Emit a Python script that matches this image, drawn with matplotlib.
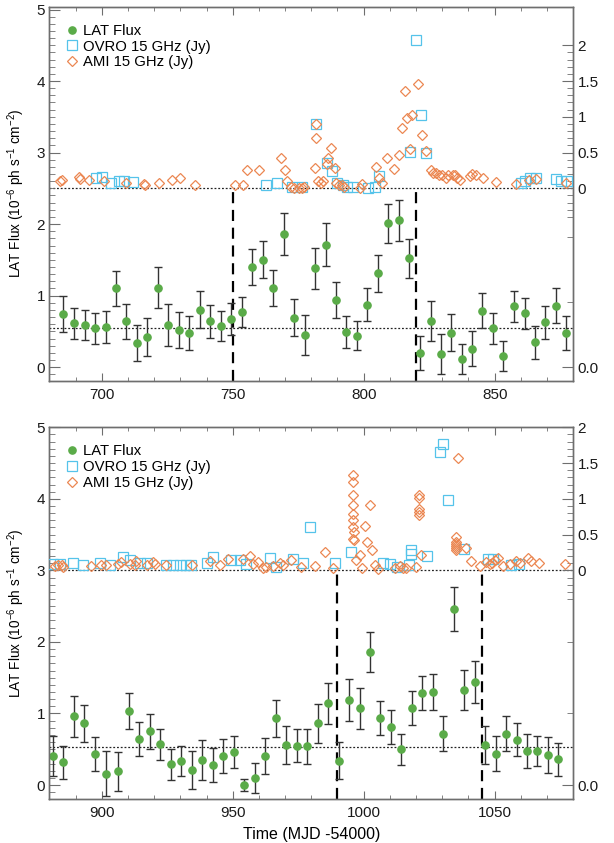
import numpy as np
import matplotlib
matplotlib.use("Agg")
import matplotlib.pyplot as plt
from matplotlib.lines import Line2D
from matplotlib.ticker import FixedLocator, MultipleLocator

plt.rcParams['font.family'] = ['Liberation Sans', 'DejaVu Sans']
plt.rcParams['mathtext.fontset'] = 'custom'
plt.rcParams['mathtext.rm'] = 'Liberation Sans'
plt.rcParams['mathtext.default'] = 'regular'

# ---- top panel data (MJD - 54000) ----
t_lat1 = [685.3, 689.4, 693.5, 697.4, 701.5, 705.5, 709.4, 713.4, 717.3, 721.3,
          725.3, 729.4, 733.3, 737.4, 741.3, 745.4, 749.4, 753.4, 757.4, 761.5,
          765.4, 769.5, 773.4, 777.5, 781.4, 785.5, 789.4, 793.4, 797.3, 801.4,
          805.5, 809.4, 813.5, 817.4, 821.4, 825.5, 829.5, 833.5, 837.4, 841.3,
          845.3, 849.4, 853.3, 857.4, 861.5, 865.4, 869.3, 873.4, 877.3]
flux_lat1 = [0.74, 0.61, 0.59, 0.54, 0.56, 1.10, 0.64, 0.34, 0.42, 1.11,
             0.59, 0.52, 0.48, 0.80, 0.64, 0.57, 0.67, 0.77, 1.40, 1.50,
             1.11, 1.86, 0.69, 0.45, 1.38, 1.71, 0.94, 0.49, 0.44, 0.87,
             1.31, 2.01, 2.05, 1.52, 0.20, 0.65, 0.18, 0.48, 0.12, 0.26,
             0.79, 0.54, 0.16, 0.85, 0.75, 0.35, 0.63, 0.86, 0.48]
err_lat1 = [0.25, 0.21, 0.21, 0.21, 0.22, 0.25, 0.24, 0.25, 0.26, 0.29,
            0.29, 0.25, 0.24, 0.26, 0.23, 0.21, 0.22, 0.21, 0.25, 0.26,
            0.25, 0.29, 0.26, 0.28, 0.29, 0.30, 0.25, 0.22, 0.20, 0.23,
            0.26, 0.27, 0.29, 0.27, 0.24, 0.28, 0.28, 0.26, 0.21, 0.24,
            0.24, 0.21, 0.21, 0.22, 0.22, 0.23, 0.23, 0.24, 0.24]

t_ovro1 = [697.7, 700.0, 703.7, 706.5, 708.4, 712.1, 762.8, 766.9, 772.8, 776.6,
           781.8, 786.0, 787.9, 789.8, 792.1, 793.6, 795.9, 801.6, 804.2, 806.0,
           817.7, 819.8, 821.8, 823.8, 860.0, 861.5, 863.4, 865.6, 873.5, 875.4, 877.7]
jy_ovro1 = [0.14, 0.16, 0.08, 0.10, 0.10, 0.09, 0.04, 0.07, 0.02, 0.02,
            0.90, 0.35, 0.24, 0.08, 0.05, 0.02, 0.02, 0.00, 0.02, 0.17,
            0.51, 2.07, 1.02, 0.50, 0.07, 0.10, 0.14, 0.14, 0.13, 0.10, 0.10]

t_ami1 = [684.2, 684.7, 691.2, 691.9, 695.0, 700.9, 709.2, 716.2, 716.5, 721.9,
          726.8, 730.0, 735.6, 750.9, 753.8, 755.5, 759.9, 768.6, 770.1, 770.9,
          772.4, 773.4, 775.2, 776.6, 777.1, 781.7, 781.9, 781.6, 782.4, 783.6,
          784.4, 786.4, 786.0, 787.4, 788.9, 789.6, 790.6, 791.9, 792.4, 798.5,
          799.4, 804.8, 805.7, 807.1, 808.8, 811.6, 813.6, 814.6, 815.6, 816.4,
          817.8, 818.3, 820.7, 822.4, 823.9, 825.6, 826.5, 827.7, 828.7, 830.0,
          831.6, 832.2, 834.1, 835.0, 835.6, 836.9, 840.5, 841.5, 843.0, 845.5,
          850.4, 858.0, 863.1, 865.9, 877.4]
jy_ami1 = [0.10, 0.11, 0.16, 0.13, 0.11, 0.10, 0.07, 0.06, 0.05, 0.07,
           0.11, 0.15, 0.04, 0.05, 0.05, 0.26, 0.25, 0.43, 0.26, 0.10,
           0.02, 0.00, 0.00, 0.01, 0.02, 0.90, 0.70, 0.28, 0.10, 0.07,
           0.10, 0.42, 0.34, 0.57, 0.29, 0.07, 0.05, 0.04, 0.02, 0.00,
           0.06, 0.30, 0.15, 0.08, 0.42, 0.27, 0.47, 0.84, 1.36, 0.99,
           0.55, 1.02, 1.46, 0.74, 0.52, 0.25, 0.22, 0.21, 0.19, 0.19,
           0.14, 0.18, 0.19, 0.19, 0.15, 0.12, 0.17, 0.20, 0.19, 0.14,
           0.09, 0.06, 0.12, 0.13, 0.08]

# ---- bottom panel data ----
t_lat2 = [881.4, 885.2, 889.4, 893.4, 897.4, 901.5, 906.4, 910.3, 914.2, 918.3,
          922.4, 926.5, 930.4, 934.4, 938.4, 942.4, 946.3, 950.4, 954.3, 958.4,
          962.4, 966.4, 970.5, 974.5, 978.4, 982.5, 986.4, 990.4, 994.3, 998.4,
          1002.4, 1006.4, 1010.5, 1014.4, 1018.3, 1022.4, 1026.4, 1030.4, 1034.3, 1038.3,
          1042.4, 1046.4, 1050.4, 1054.4, 1058.4, 1062.3, 1066.3, 1070.2, 1074.3]
flux_lat2 = [0.41, 0.32, 0.96, 0.86, 0.43, 0.16, 0.19, 1.03, 0.64, 0.75,
             0.57, 0.29, 0.33, 0.21, 0.35, 0.28, 0.41, 0.46, 0.00, 0.10,
             0.41, 0.93, 0.56, 0.55, 0.54, 0.86, 1.14, 0.34, 1.19, 1.07,
             1.86, 0.94, 0.81, 0.50, 1.08, 1.29, 1.30, 0.72, 2.46, 1.33,
             1.44, 0.56, 0.44, 0.72, 0.63, 0.48, 0.47, 0.42, 0.36]
err_lat2 = [0.28, 0.23, 0.29, 0.26, 0.24, 0.32, 0.27, 0.25, 0.24, 0.24,
            0.22, 0.22, 0.21, 0.27, 0.28, 0.24, 0.24, 0.22, 0.08, 0.21,
            0.25, 0.26, 0.26, 0.23, 0.24, 0.27, 0.29, 0.26, 0.29, 0.28,
            0.28, 0.24, 0.24, 0.22, 0.24, 0.24, 0.25, 0.25, 0.31, 0.28,
            0.29, 0.27, 0.24, 0.25, 0.23, 0.24, 0.21, 0.25, 0.23]

t_ovro2 = [881.4, 884.0, 889.1, 892.9, 899.2, 903.1, 908.1, 910.7, 914.5, 917.1,
           924.7, 927.2, 929.8, 932.3, 934.2, 940.0, 942.5, 949.5, 952.7, 955.2,
           964.2, 966.7, 973.1, 976.9, 979.4, 989.0, 995.3, 1007.2, 1010.2, 1012.8,
           1017.2, 1018.2, 1018.2, 1024.3, 1029.0, 1030.3, 1032.2, 1038.2, 1047.4, 1049.4,
           1056.1, 1059.3]
jy_ovro2 = [0.09, 0.09, 0.10, 0.08, 0.11, 0.08, 0.19, 0.14, 0.11, 0.11,
            0.08, 0.08, 0.08, 0.08, 0.08, 0.11, 0.19, 0.14, 0.14, 0.09,
            0.18, 0.05, 0.16, 0.10, 0.61, 0.11, 0.26, 0.10, 0.09, 0.05,
            0.07, 0.28, 0.23, 0.20, 1.65, 1.76, 0.98, 0.30, 0.16, 0.16,
            0.07, 0.09]

t_ami2 = [882.1, 883.3, 885.0, 885.2, 896.1, 899.9, 901.8, 906.2, 907.5, 910.7,
          912.6, 913.2, 917.3, 919.6, 920.2, 924.4, 934.5, 941.2, 945.0, 948.2,
          954.0, 956.5, 957.8, 959.7, 961.6, 962.9, 965.4, 968.0, 969.2, 972.4,
          976.2, 981.3, 985.4, 988.3, 996.0, 996.0, 996.0, 996.0, 996.0, 996.0,
          996.0, 996.2, 996.0, 996.3, 997.2, 998.5, 999.5, 1000.4, 1001.3, 1002.3,
          1003.3, 1004.2, 1005.5, 1012.1, 1013.8, 1015.0, 1016.3, 1020.1, 1021.1, 1021.1,
          1021.1, 1021.1, 1021.1, 1022.0, 1035.4, 1035.4, 1035.4, 1035.3, 1035.4, 1035.3,
          1036.0, 1039.2, 1041.1, 1044.3, 1046.8, 1048.1, 1049.1, 1050.0, 1051.3, 1053.2,
          1055.7, 1058.0, 1059.5, 1062.7, 1064.0, 1066.8, 1076.7]
jy_ami2 = [0.06, 0.08, 0.08, 0.05, 0.06, 0.07, 0.08, 0.09, 0.12, 0.09,
           0.08, 0.13, 0.08, 0.12, 0.09, 0.08, 0.07, 0.13, 0.08, 0.16,
           0.16, 0.20, 0.09, 0.12, 0.04, 0.05, 0.06, 0.10, 0.08, 0.14,
           0.05, 0.06, 0.26, 0.03, 1.33, 1.24, 1.05, 0.91, 0.79, 0.71,
           0.60, 0.54, 0.44, 0.42, 0.14, 0.21, 0.04, 0.62, 0.40, 0.92,
           0.28, 0.08, 0.02, 0.03, 0.06, 0.03, 0.04, 0.05, 1.05, 1.01,
           0.86, 0.81, 0.77, 0.21, 0.47, 0.40, 0.37, 0.34, 0.31, 0.29,
           1.57, 0.31, 0.13, 0.06, 0.12, 0.09, 0.10, 0.14, 0.17, 0.06,
           0.09, 0.13, 0.11, 0.17, 0.13, 0.11, 0.09]

GREEN = '#5aab48'
CYAN = '#55c3ea'
ORANGE = '#eb8752'
SPINE = '#6e6e6e'


def panel(ax, t_lat, flux, err, t_ov, jy_ov, t_ami, jy_ami,
          xlim, ylim, offset, baseline, flares, low_ticks, xlabel=False):
    ax.set_xlim(xlim)
    ax.set_ylim(ylim)

    # radio axis shares the frame, zero at `offset` on the LAT scale
    rax = ax.twinx()
    rax.set_ylim(ylim[0] - offset, ylim[1] - offset)

    ax.axhline(offset, color='#222222', lw=0.9, ls=(0, (1.5, 1.5)), zorder=1)
    ax.axhline(baseline, color='#222222', lw=0.9, ls=(0, (1.5, 1.5)), zorder=1)
    for xf in flares:
        ax.plot([xf, xf], [ylim[0], offset], color='black', lw=1.6,
                ls=(0, (5, 3)), zorder=2)

    ax.errorbar(t_lat, flux, yerr=err, fmt='o', color=GREEN, ms=5.2,
                ecolor='#333333', elinewidth=1.0, capsize=2.6, capthick=1.0,
                zorder=3)
    rax.plot(t_ov, jy_ov, 's', mfc='none', mec=CYAN, ms=6.5, mew=0.9, zorder=4)
    rax.plot(t_ami, jy_ami, 'D', mfc='none', mec=ORANGE, ms=5.0, mew=0.9, zorder=5)

    # left axis ticks
    ax.yaxis.set_major_locator(MultipleLocator(1))
    ax.yaxis.set_minor_locator(MultipleLocator(0.1))
    ax.xaxis.set_major_locator(MultipleLocator(50))
    ax.xaxis.set_minor_locator(MultipleLocator(10))
    ax.tick_params(which='both', direction='in', top=True, right=False,
                   colors=SPINE, labelcolor='#1a1a1a', labelsize=11)
    ax.tick_params(axis='y', which='major', length=8, pad=3)
    ax.tick_params(axis='y', which='minor', length=4.5)
    ax.tick_params(axis='x', which='major', length=5.5, pad=5)
    ax.tick_params(axis='x', which='minor', length=3)

    # right axis ticks: radio scale + lower scale
    major = [low_ticks[0], 0, 0.5, 1, 1.5, 2]
    labels = ['0.0', '0', '0.5', '1', '1.5', '2']
    rax.yaxis.set_major_locator(FixedLocator(major))
    rax.set_yticklabels(labels)
    minor = list(np.round(np.arange(-0.4, 2.01, 0.1), 2)) + low_ticks[1:]
    rax.yaxis.set_minor_locator(FixedLocator(minor))
    rax.tick_params(which='both', direction='in', colors=SPINE,
                    labelcolor='#1a1a1a', labelsize=11)
    rax.tick_params(which='major', length=8, pad=3)
    rax.tick_params(which='minor', length=4.5)

    for a in (ax, rax):
        for s in a.spines.values():
            s.set_color(SPINE)
            s.set_linewidth(1.0)

    ax.set_ylabel(r'LAT Flux (10$^{-6}$ ph s$^{-1}$ cm$^{-2}$)', fontsize=9.8)
    ax.yaxis.set_label_coords(-0.042, 0.5)
    if xlabel:
        ax.set_xlabel('Time (MJD -54000)', fontsize=11.5, labelpad=5)

    handles = [
        Line2D([], [], ls='none', marker='o', color=GREEN, ms=5.2),
        Line2D([], [], ls='none', marker='s', mfc='none', mec=CYAN, ms=6.5, mew=0.9),
        Line2D([], [], ls='none', marker='D', mfc='none', mec=ORANGE, ms=5.0, mew=0.9),
    ]
    leg = rax.legend(handles, ['LAT Flux', 'OVRO 15 GHz (Jy)', 'AMI 15 GHz (Jy)'],
                     loc='upper left', frameon=False, fontsize=10.7,
                     handlelength=0.7, handletextpad=0.45, labelspacing=0.12,
                     borderaxespad=0.75, borderpad=0.4)
    leg.set_zorder(10)
    return rax


fig = plt.figure(figsize=(6.14, 8.43), dpi=100)
ax1 = fig.add_axes([0.0803, 0.5484, 0.8534, 0.4437])
ax2 = fig.add_axes([0.0803, 0.0518, 0.8534, 0.4413])

panel(ax1, t_lat1, flux_lat1, err_lat1, t_ovro1, jy_ovro1, t_ami1, jy_ami1,
      (680, 880), (-0.19, 5.04), 2.5, 0.54, [750, 820],
      [-2.5, -1.59, -0.68])
panel(ax2, t_lat2, flux_lat2, err_lat2, t_ovro2, jy_ovro2, t_ami2, jy_ami2,
      (880, 1080), (-0.2, 5.0), 3.0, 0.53, [990, 1045],
      [-3.0, -2.0, -1.0], xlabel=True)

fig.savefig('out.png', dpi=100)
